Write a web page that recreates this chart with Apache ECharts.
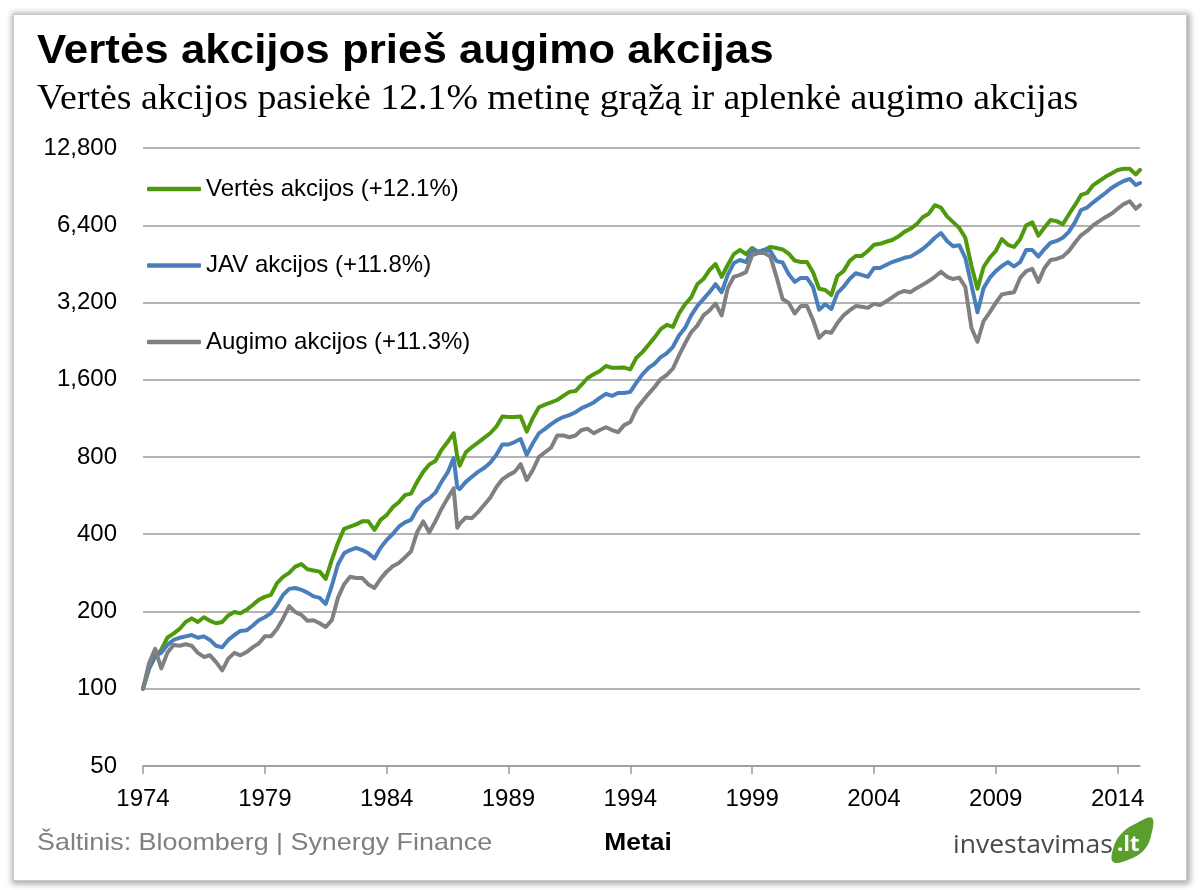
<!DOCTYPE html>
<html><head><meta charset="utf-8">
<script src="https://cdn.jsdelivr.net/npm/echarts@6/dist/echarts.min.js"></script>
<style>
html,body{margin:0;padding:0;background:#fff;}
#frame{position:absolute;left:13px;top:14px;width:1172px;height:865px;border:1px solid #c9c9c9;box-shadow:1px 1px 6px 2px rgba(0,0,0,0.35);background:#fff;}
#chart{position:absolute;left:0;top:0;width:1200px;height:890px;}
</style></head><body>
<div id="frame"></div><div id="chart"></div>
<script>
// Time points (decimal years)
const years = [
1974,1974.25,1974.5,1974.75,1975,1975.25,1975.5,1975.75,1976,1976.25,1976.5,1976.75,
1977,1977.25,1977.5,1977.75,1978,1978.25,1978.5,1978.75,1979,1979.25,1979.5,1979.75,
1980,1980.25,1980.5,1980.75,1981,1981.25,1981.5,1981.75,1982,1982.25,1982.5,1982.75,
1983,1983.25,1983.5,1983.75,1984,1984.25,1984.5,1984.75,1985,1985.25,1985.5,1985.75,
1986,1986.25,1986.5,1986.75,1986.9,
1987,1987.25,1987.5,1987.75,1988,1988.25,1988.5,1988.75,1989,1989.25,1989.5,1989.75,
1990,1990.25,1990.5,1990.75,1991,1991.25,1991.5,1991.75,1992,1992.25,1992.5,1992.75,
1993,1993.25,1993.5,1993.75,
1994,1994.25,1994.5,1994.75,1995,1995.25,1995.5,1995.75,1996,1996.25,1996.5,1996.75,
1997,1997.25,1997.5,1997.75,1998,1998.25,1998.5,1998.75,1999,1999.25,1999.5,1999.75,
2000,2000.25,2000.5,2000.75,
2001,2001.25,2001.5,2001.75,2002,2002.25,2002.5,2002.75,2003,2003.25,2003.5,2003.75,
2004,2004.25,2004.5,2004.75,2005,2005.25,2005.5,2005.75,2006,2006.25,2006.5,2006.75,
2007,2007.25,2007.5,2007.75,
2008,2008.25,2008.5,2008.75,2009,2009.25,2009.5,2009.75,2010,2010.25,2010.5,2010.75,
2011,2011.25,2011.5,2011.75,2012,2012.25,2012.5,2012.75,2013,2013.25,2013.5,2013.75,
2014,2014.25,2014.5,2014.75,2014.92
];
// Value stocks (green)
const vertes = [
100,120,133,142,158,164,171,182,188,182,190,184,180,182,193,199,197,203,212,222,228,232,258,273,283,299,306,292,
289,286,268,318,370,420,428,437,449,449,416,455,475,510,533,568,576,640,700,748,772,852,915,990,
800,
740,835,875,910,950,990,1050,1150,1145,1145,1150,1005,1135,1250,1280,1305,1334,1385,1435,1445,1530,1625,1680,1730,1810,1780,1780,1785,
1755,1950,2050,2190,2340,2520,2620,2570,2900,3150,3350,3770,3950,4283,4520,4030,4480,4940,5126,4940,5220,5040,5126,5270,5220,5150,4960,4660,
4600,4600,4200,3620,3580,3420,4060,4240,4640,4860,4860,5080,5370,5420,5520,5607,5780,6030,6200,6460,6880,7100,7660,7500,6930,6580,6250,5720,
4460,3620,4400,4780,5080,5650,5370,5270,5650,6400,6570,5830,6270,6707,6640,6460,7050,7660,8400,8550,9180,9520,9880,10190,10510,10620,10620,10100,10509
];
// US stocks (blue)
const jav = [
100,120,135,138,148,155,158,160,162,158,160,155,147,145,155,162,168,169,176,185,190,197,212,232,245,247,243,237,
229,226,214,252,305,337,347,354,347,337,322,354,380,401,428,445,455,502,533,552,581,640,695,793,
610,
600,640,670,700,725,760,815,895,895,915,940,815,905,990,1030,1075,1115,1145,1165,1195,1240,1270,1305,1360,1410,1385,1420,1420,
1435,1560,1680,1780,1850,1960,2030,2150,2380,2550,2850,3100,3300,3510,3770,3510,4100,4560,4685,4600,5126,5040,5126,5080,4640,4580,4130,3850,
3990,3990,3680,3000,3150,3020,3480,3680,3950,4160,4100,4030,4360,4360,4480,4600,4685,4780,4830,4990,5170,5420,5720,5970,5560,5300,5350,4780,
3750,2930,3640,3990,4240,4440,4600,4420,4600,5126,5126,4830,5170,5470,5560,5720,6030,6570,7338,7500,7860,8200,8550,8940,9250,9520,9700,9180,9350
];
// Growth stocks (gray)
const augimo = [
100,126,143,120,138,148,147,149,147,138,133,135,127,118,131,138,135,139,145,150,160,160,171,188,210,199,194,184,
185,180,174,185,226,255,273,270,270,255,247,268,286,300,309,325,343,407,449,407,449,502,552,604,
424,
440,465,462,488,520,555,610,655,680,700,750,651,712,800,835,870,970,970,955,970,1019,1030,990,1019,1045,1019,1000,1065,
1095,1230,1320,1410,1500,1610,1670,1770,1990,2220,2450,2600,2850,2980,3170,2850,3640,4030,4100,4200,4900,4990,4990,4830,4030,3300,3190,2900,
3100,3100,2735,2330,2460,2440,2660,2850,2980,3100,3080,3050,3160,3130,3230,3350,3480,3550,3510,3640,3750,3880,4030,4220,4030,3950,4000,3680,
2550,2250,2710,2930,3190,3440,3480,3510,3990,4240,4330,3850,4360,4685,4730,4830,5080,5470,5850,6080,6400,6640,6880,7100,7420,7740,7940,7420,7660
];
const seriesNames = ['Vertės akcijos (+12.1%)','JAV akcijos (+11.8%)','Augimo akcijos (+11.3%)'];
const seriesColors = ['#4e9a0c','#4a7ebb','#808080'];
const xTicks = [1974,1979,1984,1989,1994,1999,2004,2009,2014];
const yTicks = [50,100,200,400,800,1600,3200,6400,12800];
const titleText = 'Vertės akcijos prieš augimo akcijas';
const subtitleText = 'Vertės akcijos pasiekė 12.1% metinę grąžą ir aplenkė augimo akcijas';
const sourceText = 'Šaltinis: Bloomberg | Synergy Finance';
const xAxisName = 'Metai';

const pairs = vals => years.map((y, i) => [y, vals[i]]);
const fmt = v => String(Math.round(v)).replace(/\B(?=(\d{3})+(?!\d))/g, ',');
const SANS = '"Liberation Sans", Arial, sans-serif';

const chart = echarts.init(document.getElementById('chart'));
chart.setOption({
  animation: false,
  backgroundColor: 'transparent',
  grid: {left: 143, right: 60, top: 148, bottom: 124},
  legend: {
    orient: 'vertical', left: 147, top: 177, padding: 0, itemGap: 52.5,
    itemWidth: 54, itemHeight: 4.5, icon: 'roundRect',
    textStyle: {fontFamily: SANS, fontSize: 24, color: '#000', lineHeight: 24},
    data: seriesNames
  },
  xAxis: {
    type: 'value', min: 1974, max: 2014.92,
    axisLine: {show: true, lineStyle: {color: '#9a9a9a', width: 1.5}},
    axisTick: {show: true, customValues: xTicks, length: 8, lineStyle: {color: '#9a9a9a', width: 1.5}},
    axisLabel: {customValues: xTicks, formatter: v => String(v), margin: 21, fontSize: 24, color: '#000', fontFamily: SANS},
    splitLine: {show: false}
  },
  yAxis: {
    type: 'log', logBase: 2, min: 50, max: 12800,
    axisLine: {show: false},
    axisTick: {show: false, customValues: yTicks},
    axisLabel: {customValues: yTicks, formatter: v => fmt(v), margin: 26, fontSize: 24, color: '#000', fontFamily: SANS},
    splitLine: {show: true, lineStyle: {color: '#9a9a9a', width: 1.5}}
  },
  series: [vertes, jav, augimo].map((vals, i) => ({
    name: seriesNames[i], type: 'line', showSymbol: false, symbol: 'none',
    data: pairs(vals),
    lineStyle: {color: seriesColors[i], width: 4, cap: 'round', join: 'round'},
    itemStyle: {color: seriesColors[i]}
  })),
  graphic: [
    {type: 'text', x: 37, y: 52, scaleX: 1.097, style: {text: titleText, font: 'bold 40px ' + SANS, fill: '#000', verticalAlign: 'middle'}},
    {type: 'text', x: 37, y: 100, scaleX: 1.05, style: {text: subtitleText, font: '36px "Liberation Serif", "Times New Roman", serif', fill: '#000', verticalAlign: 'middle'}},
    {type: 'text', x: 37, y: 843, scaleX: 1.12, style: {text: sourceText, font: '24px ' + SANS, fill: '#7f7f7f', verticalAlign: 'middle'}},
    {type: 'text', x: 638, y: 843, scaleX: 1.1, style: {text: xAxisName, font: 'bold 24px ' + SANS, fill: '#000', align: 'center', verticalAlign: 'middle'}},
    {type: 'text', x: 953, y: 846, scaleX: 1.02, style: {text: 'investavimas', font: '26px "Open Sans", sans-serif', fill: '#4a4a4a', verticalAlign: 'middle'}},
    {type: 'polygon', x: 1111, y: 818, shape: {smooth: 0.4, points: [[2,44],[3,28],[12,14],[26,5],[41,0],[40,18],[33,32],[19,41]]}, style: {fill: '#5a9e2e'}},
    {type: 'text', x: 1117, y: 845, style: {text: '.lt', font: 'bold 22px "Open Sans", sans-serif', fill: '#fff', verticalAlign: 'middle'}}
  ]
});
</script></body></html>
